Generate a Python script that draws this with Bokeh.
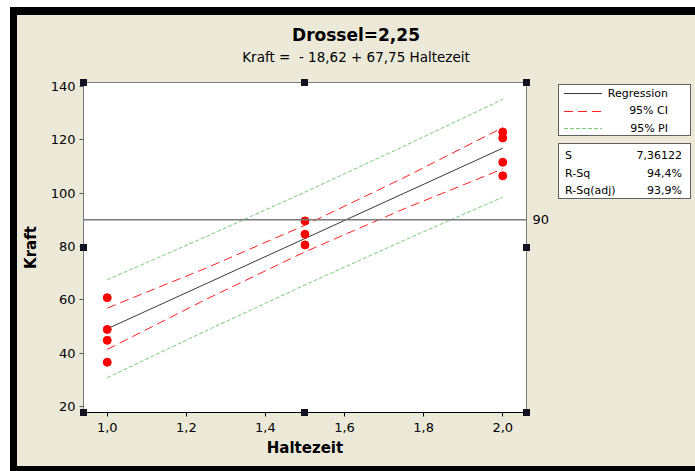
from bokeh.plotting import figure
from bokeh.embed import file_html
from bokeh.resources import INLINE
from bokeh.layouts import row, column
from bokeh.models import (Div, Span, LinearAxis, FixedTicker, SingleIntervalTicker,
                          CustomJSTickFormatter, Range1d)

# ---------------- data ----------------
haltezeit = [1.0, 1.0, 1.0, 1.0, 1.5, 1.5, 1.5, 2.0, 2.0, 2.0, 2.0]
kraft = [60.8, 48.9, 44.8, 36.6, 89.6, 84.6, 80.6, 122.9, 120.7, 111.6, 106.5]

band_x = [1.0, 1.25, 1.5, 1.75, 2.0]
fit_y = [49.13, 66.06, 83.0, 99.94, 116.88]
ci_lower = [41.4, 60.2, 78.0, 94.1, 109.1]
ci_upper = [56.9, 71.9, 88.0, 105.8, 124.6]
pi_lower = [30.8, 48.4, 65.6, 82.3, 98.5]
pi_upper = [67.5, 83.7, 100.4, 117.6, 135.2]

ref_line = 90
title = "Drossel=2,25"
subtitle = "Kraft =  - 18,62 + 67,75 Haltezeit"
x_label = "Haltezeit"
y_label = "Kraft"
legend_labels = ["Regression", "95% CI", "95% PI"]
stat_names = ["S", "R-Sq", "R-Sq(adj)"]
stat_values = ["7,36122", "94,4%", "93,9%"]

# ---------------- styling ----------------
FONT = "DejaVu Sans"
BG = "#ECE9D8"
FIT_C = "#3A3A3A"
CI_C = "#FF2020"
PI_C = "#77CC77"
CI_DASH = "9 5"
PI_DASH = "4 2"

# page geometry (window px)
OX, OY = 17, 67          # top-left of the figure canvas
PW, PH = 540, 399        # figure size
FL, FR, FT, FB = 83, 526, 82, 412  # frame edges in window px

p = figure(width=PW, height=PH, x_range=Range1d(0.94, 2.06), y_range=Range1d(17.75, 141.5),
           output_backend="svg", toolbar_location=None,
           min_border_left=FL - OX, min_border_right=OX + PW - FR,
           min_border_top=FT - OY, min_border_bottom=OY + PH - FB,
           styles={"background-color": BG})
p.border_fill_color = BG
p.background_fill_color = "white"
p.outline_line_color = "#7A7A7A"
p.outline_line_width = 1
p.grid.visible = False

p.xaxis.ticker = SingleIntervalTicker(interval=0.2)
p.xaxis.formatter = CustomJSTickFormatter(code="return tick.toFixed(1).replace('.', ',');")
p.yaxis.ticker = SingleIntervalTicker(interval=20)
p.xaxis.axis_label = x_label
p.yaxis.axis_label = y_label
for ax in (p.xaxis, p.yaxis):
    ax.major_label_text_font = FONT
    ax.major_label_text_font_size = "13px"
    ax.major_label_text_color = "black"
    ax.axis_label_text_font = FONT
    ax.axis_label_text_font_size = "15px"
    ax.axis_label_text_font_style = "bold"
    ax.axis_label_text_color = "black"
    ax.minor_tick_line_color = None
    ax.major_tick_in = 0
    ax.major_tick_out = 4
p.xaxis.axis_line_color = "black"
p.xaxis.major_tick_line_color = "black"
p.yaxis.axis_line_color = "#7A7A7A"
p.yaxis.major_tick_line_color = "#555555"
p.yaxis.major_label_standoff = 4
p.xaxis.major_label_standoff = 6
p.yaxis.axis_label_standoff = 8
p.xaxis.axis_label_standoff = 4

rax = LinearAxis(ticker=FixedTicker(ticks=[ref_line]), axis_line_color=None,
                 major_tick_line_color=None, minor_tick_line_color=None,
                 major_tick_in=0, major_tick_out=0,
                 major_label_text_font=FONT, major_label_text_font_size="13px",
                 major_label_text_color="black", major_label_standoff=6)
p.add_layout(rax, "right")

p.add_layout(Span(location=ref_line, dimension="width", line_color="#7A7A7A", line_width=1.5))

p.line(band_x, pi_upper, line_color=PI_C, line_dash=PI_DASH, line_width=1)
p.line(band_x, pi_lower, line_color=PI_C, line_dash=PI_DASH, line_width=1)
p.line(band_x, ci_upper, line_color=CI_C, line_dash=CI_DASH, line_width=1)
p.line(band_x, ci_lower, line_color=CI_C, line_dash=CI_DASH, line_width=1)
p.line(band_x, fit_y, line_color=FIT_C, line_width=1)
p.scatter(haltezeit, kraft, size=8, fill_color="#FF0000", line_color="#FF0000")


def block(w, h, color, html=""):
    return Div(text=html, width=w, height=h, margin=0,
               styles={"background-color": color, "overflow": "visible"})


# title block
title_html = (
    f'<div style="width:678px;height:52px;text-align:center;font-family:\'{FONT}\';color:black;">'
    f'<div style="position:absolute;top:10px;width:678px;font-size:17px;font-weight:bold;line-height:20px;">{title}</div>'
    f'<div style="position:absolute;top:34px;width:678px;font-size:13.5px;line-height:17px;white-space:pre;">{subtitle}</div>'
    '</div>'
)
title_div = block(678, OY - 15, BG, title_html)

# side block (legend, statistics, frame handles)
SX = OX + PW  # left of side block in window px
SW = 695 - SX


def sample(color, dash, t):
    d = f' stroke-dasharray="{dash}"' if dash else ""
    return (f'<svg width="40" height="5" style="position:absolute;left:5px;top:{t}px">'
            f'<line x1="0" y1="2.5" x2="38" y2="2.5" stroke="{color}" stroke-width="1"{d}/></svg>')


parts = [f'<div style="position:relative;width:{SW}px;height:{PH}px;font-family:\'{FONT}\';font-size:11px;color:black;">']
# legend box
lx, ly = 558 - SX, 84 - OY
parts.append(f'<div style="position:absolute;left:{lx}px;top:{ly}px;width:133px;height:52px;'
             f'background:white;border:1px solid #606060;">')
for i, (lab, col, dash) in enumerate(zip(legend_labels, [FIT_C, CI_C, PI_C], [None, CI_DASH, PI_DASH])):
    t = 6 + i * 17.5
    parts.append(sample(col, dash, t))
    parts.append(f'<div style="position:absolute;right:22px;top:{t - 5.5}px;line-height:16px;">{lab}</div>')
parts.append('</div>')
# stats box
sy = 143 - OY
parts.append(f'<div style="position:absolute;left:{lx}px;top:{sy}px;width:133px;height:56px;'
             f'background:white;border:1px solid #606060;">')
for i, (nm, vl) in enumerate(zip(stat_names, stat_values)):
    t = 4 + i * 17.5
    parts.append(f'<div style="position:absolute;left:6px;top:{t}px;line-height:16px;">{nm}</div>')
    parts.append(f'<div style="position:absolute;right:8px;top:{t}px;line-height:16px;">{vl}</div>')
parts.append('</div>')
# frame handles
mx, my = (FL + FR) / 2, (FT + FB) / 2
for hx, hy in [(FL, FT), (mx, FT), (FR, FT), (FL, my), (FR, my), (FL, FB), (mx, FB), (FR, FB)]:
    parts.append(f'<div style="position:absolute;left:{hx - 3.5 - SX}px;top:{hy - 3.5 - OY}px;'
                 f'width:7px;height:7px;background:#111122;z-index:50;"></div>')
parts.append('</div>')
side_div = block(SW, PH, BG, "".join(parts))

bg = {"background-color": BG}
inner = column(title_div, row(p, side_div, spacing=0, styles=bg), spacing=0, styles=bg)
framed = row(block(7, 451, "black"), inner, spacing=0, styles=bg)
right_part = column(block(685, 7, "white"), block(685, 8, "black"), framed, block(685, 5, "black"), spacing=0)
root = row(block(10, 471, "white"), right_part, spacing=0)

open("out.html", "w").write(file_html(root, INLINE))
